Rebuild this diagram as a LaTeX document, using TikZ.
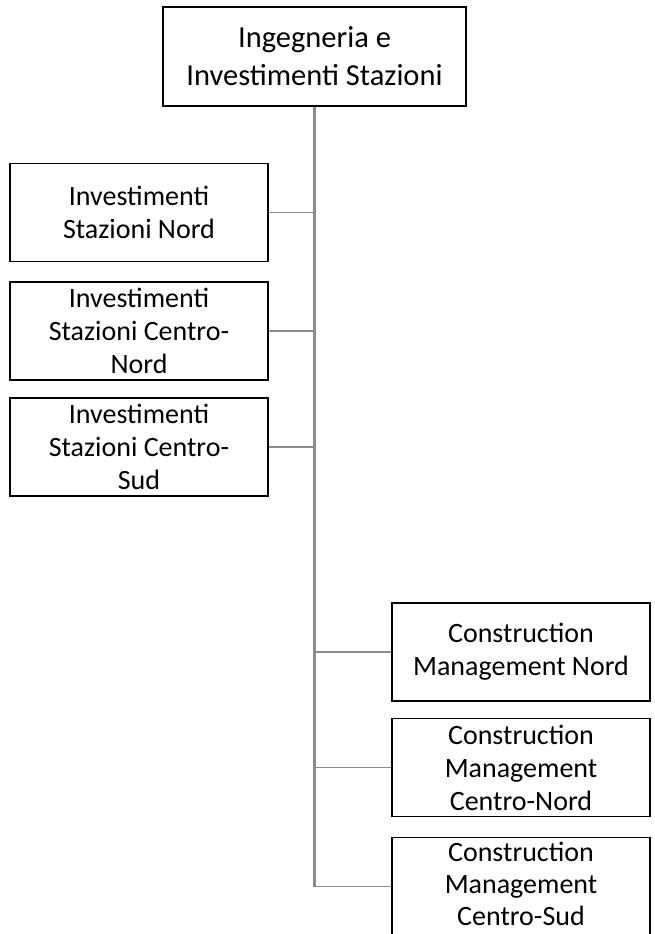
\documentclass[tikz,border=0pt]{standalone}
\usepackage{fontspec}
\setmainfont{Carlito}
\begin{document}
\begin{tikzpicture}[x=1pt,y=1pt,
  box/.style={draw=black,line width=1.4pt,fill=white,rectangle,inner sep=0pt,align=center,
    minimum width=258pt,minimum height=98pt,font=\fontsize{28}{33}\selectfont},
  lbl/.style={inner sep=0pt,align=center,font=\fontsize{28}{32}\selectfont},
  trunk/.style={draw=black!45,line width=2.6pt},
  conn/.style={draw=black!45,line width=1.6pt}]
\useasboundingbox (0,0) rectangle (655,-934);
\clip (0,0) rectangle (655,-934);
\node[box,minimum width=303pt,minimum height=99pt,font=\fontsize{30.5}{38}\selectfont] (top) at (314.5,-56.5) {Ingegneria e\\Investimenti Stazioni};
\node[box] (lb1) at (139,-212.5) {Investimenti\\Stazioni Nord};
\node[box] (lb2) at (139,-331) {Investimenti\\Stazioni Centro-\\Nord};
\node[box] (lb3) at (139,-447) {Investimenti\\Stazioni Centro-\\Sud};
\node[box] (rb1) at (521,-652) {Construction\\Management Nord};
\node[box] (rb2) at (521,-767.5) {Construction\\Management\\Centro-Nord};
\node[box] (rb3) at (521,-886.5) {};
\node[lbl] (rb3t) at (521,-884) {Construction\\Management\\Centro-Sud};
\coordinate (tr) at (top.south);
\foreach \n in {lb1,lb2,lb3} \draw[conn] (\n.east) -- (\n.east -| tr);
\foreach \n in {rb1,rb2,rb3} \draw[conn] (\n.west) -- (\n.west -| tr);
\draw[trunk] (tr) -- (tr |- rb3.west);
\end{tikzpicture}
\end{document}
